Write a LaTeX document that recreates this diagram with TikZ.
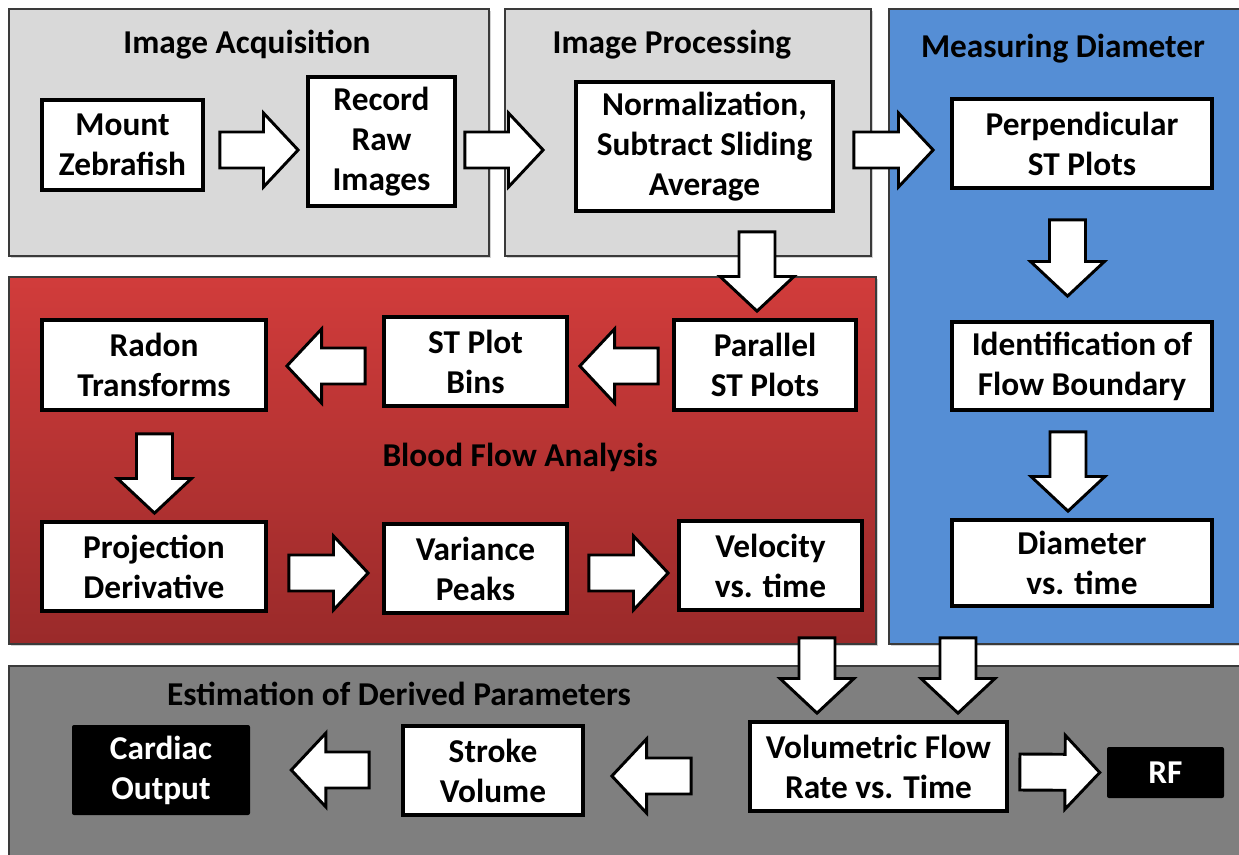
\documentclass[tikz,border=0pt]{standalone}
\usepackage{fontspec}
\setmainfont{Carlito}
\usetikzlibrary{calc,shadows}

\definecolor{panelgray}{HTML}{D9D9D9}
\definecolor{paneldark}{HTML}{7F7F7F}
\definecolor{panelblue}{HTML}{558ED5}
\definecolor{redtop}{HTML}{D13C3B}
\definecolor{redbot}{HTML}{9A2A2A}
\definecolor{edge}{HTML}{3A3A3A}

\newcommand\boxfont{\bfseries\fontsize{25}{30}\selectfont}
\newcommand\titlefont{\bfseries\fontsize{25}{28}\selectfont}

\tikzset{
  panel/.style={draw=edge, line width=0.9pt,
    drop shadow={shadow xshift=1.5pt, shadow yshift=-1.5pt, opacity=0.35}},
  stepbox/.style 2 args={draw=black, fill=white, line width=2.8pt, inner sep=0pt,
    minimum width=#1*0.75pt, minimum height=#2*0.75pt, align=center, font=\boxfont},
  darkbox/.style 2 args={fill=black, text=white, rounded corners=1.5pt, inner sep=0pt,
    minimum width=#1*0.75pt, minimum height=#2*0.75pt, align=center, font=\boxfont},
  paneltitle/.style={font=\titlefont, inner sep=0pt},
  blockarrow/.style={draw=black, fill=white, line width=2.2pt, line join=miter},
}

% hollow block arrow from #1 (tail) to #2 (tip)
\newcommand\barrow[2]{%
  \path (#1) coordinate (ba-s) (#2) coordinate (ba-t);
  \coordinate (ba-h) at ($(ba-t)!26pt!(ba-s)$);
  \draw[blockarrow]
    ($(ba-s)!13.5pt!90:(ba-t)$) -- ($(ba-h)!13.5pt!-90:(ba-s)$)
    -- ($(ba-h)!27.75pt!-90:(ba-s)$) -- (ba-t)
    -- ($(ba-h)!27.75pt!90:(ba-s)$) -- ($(ba-h)!13.5pt!90:(ba-s)$)
    -- ($(ba-s)!13.5pt!-90:(ba-t)$) -- cycle;
}

\begin{document}
\begin{tikzpicture}[x=0.75pt, y=-0.75pt]
\useasboundingbox (0,0) rectangle (1239,854);
\fill[white] (0,0) rectangle (1239,854);

% stage panels
\draw[panel, fill=panelgray] (9,9) rectangle (489,256);
\draw[panel, fill=panelgray] (505,9) rectangle (871,256);
\draw[panel, fill=panelblue] (889,9) rectangle (1250,644);
\shadedraw[panel, top color=redtop, bottom color=redbot] (9,277) rectangle (876,644);
\draw[panel, fill=paneldark] (9,666) rectangle (1250,870);

% panel titles
\node[paneltitle] (tacq) at (247,45) {Image Acquisition};
\node[paneltitle] (tproc) at (672,45) {Image Processing};
\node[paneltitle] (tdiam) at (1063,49) {Measuring Diameter};
\node[paneltitle] (tflow) at (520,457) {Blood Flow Analysis};
\node[paneltitle] (test) at (399,694) {Estimation of Derived Parameters};

% process steps
\node[stepbox={161}{90}] (mount) at (122.5,145) {Mount\\Zebrafish};
\node[stepbox={147}{129}] (record) at (381.5,141.5) {Record\\Raw\\Images};
\node[stepbox={257}{129}] (norm) at (704.5,146.5) {Normalization,\\Subtract Sliding\\Average};
\node[stepbox={260}{89}] (perp) at (1082,143.5) {Perpendicular\\ST Plots};
\node[stepbox={260}{88}] (ident) at (1082,366) {Identification of\\Flow Boundary};
\node[stepbox={260}{86}] (diam) at (1082,563) {Diameter\\vs. time};
\node[stepbox={182}{90}] (par) at (765,365) {Parallel\\ST Plots};
\node[stepbox={183}{89}] (bins) at (475.5,361.5) {ST Plot\\Bins};
\node[stepbox={224}{90}] (radon) at (154,365) {Radon\\Transforms};
\node[stepbox={224}{89}] (proj) at (154,566.5) {Projection\\Derivative};
\node[stepbox={183}{89}] (var) at (475.5,568.5) {Variance\\Peaks};
\node[stepbox={183}{89}] (vel) at (770.5,565.5) {Velocity\\vs. time};
\node[stepbox={257}{89}] (vol) at (878.5,766.5) {Volumetric Flow\\Rate vs. Time};
\node[stepbox={180}{89}] (stroke) at (493,770.5) {Stroke\\Volume};
\node[darkbox={178}{90}] (cardiac) at (161,770) {Cardiac\\Output};
\node[darkbox={117}{51}] (rf) at (1165.5,772.5) {RF};

% flow arrows
\barrow{$(mount.east)+(15,5)$}{$(record.west)+(-8,8.5)$}
\barrow{$(record.east)+(8,8.5)$}{$(norm.west)+(-31,3.5)$}
\barrow{$(norm.east)+(19,3.5)$}{$(perp.west)+(-17,6.5)$}
\barrow{$(norm.south)+(52.5,19)$}{$(par.north)+(-8,-7)$}
\barrow{$(perp.south)+(-14.5,30)$}{$(ident.north)+(-14.5,-24)$}
\barrow{$(ident.south)+(-14,20)$}{$(diam.north)+(-14,-7)$}
\barrow{$(par.west)+(-14,1)$}{$(bins.east)+(11,4.5)$}
\barrow{$(bins.west)+(-17,4.5)$}{$(radon.east)+(19,1)$}
\barrow{$(radon.south)+(0.5,22)$}{$(proj.north)+(0.5,-7)$}
\barrow{$(proj.east)+(21,6.5)$}{$(var.west)+(-14,4.5)$}
\barrow{$(var.east)+(20,4.5)$}{$(vel.west)+(-9,7.5)$}
\barrow{$(vel.south)+(46.5,26)$}{$(vol.north)+(-61.5,-7)$}
\barrow{$(diam.south)+(-124,30)$}{$(vol.north)+(79.5,-7)$}
\barrow{$(vol.west)+(-57,9.5)$}{$(stroke.east)+(27,5.5)$}
\barrow{$(stroke.west)+(-32,-0.5)$}{$(cardiac.east)+(41,0)$}
\barrow{$(vol.east)+(11,5.5)$}{$(rf.west)+(-7,0)$}
\end{tikzpicture}
\end{document}
